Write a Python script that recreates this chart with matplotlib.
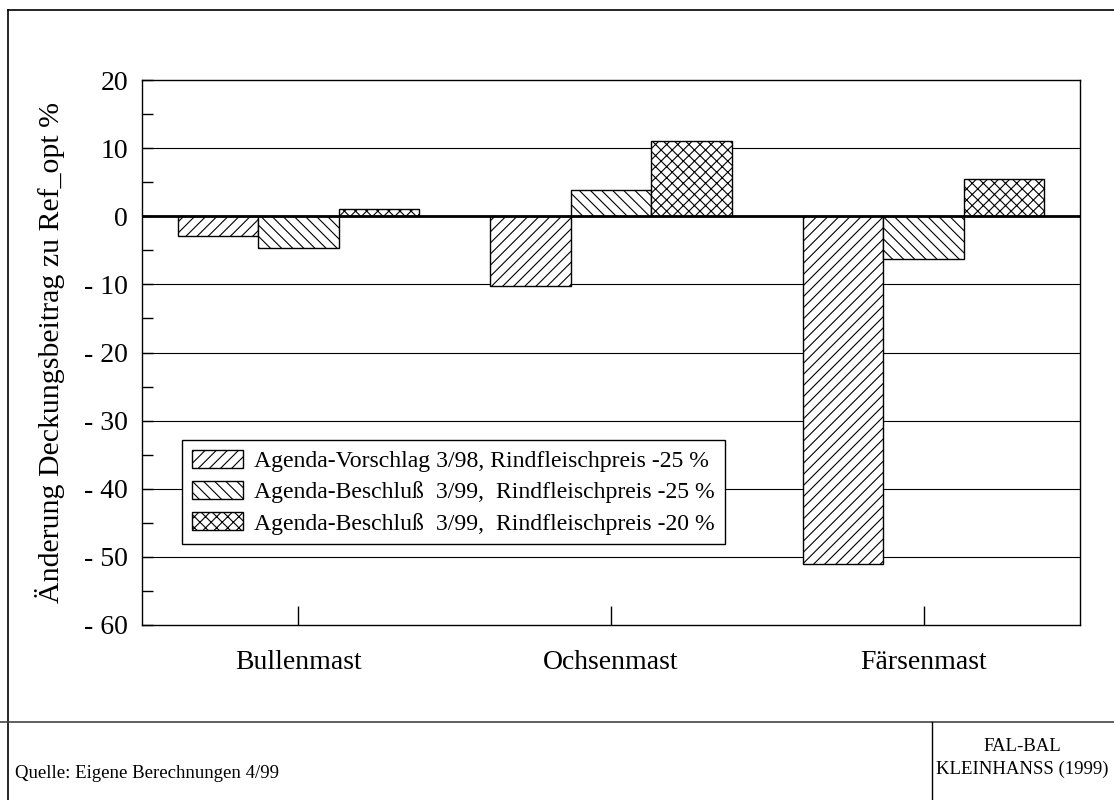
import matplotlib
matplotlib.use('Agg')
import matplotlib.pyplot as plt
from matplotlib.lines import Line2D
from matplotlib.ticker import FixedLocator, FuncFormatter
import numpy as np

plt.rcParams['font.family'] = ['Liberation Serif', 'DejaVu Serif']
plt.rcParams['hatch.linewidth'] = 0.8

categories = ['Bullenmast', 'Ochsenmast', 'Färsenmast']
series_labels = ['Agenda-Vorschlag 3/98, Rindfleischpreis -25 %',
                 'Agenda-Beschluß  3/99,  Rindfleischpreis -25 %',
                 'Agenda-Beschluß  3/99,  Rindfleischpreis -20 %']
vorschlag_98 = [-2.9, -10.3, -51.1]
beschluss_99_25 = [-4.7, 3.8, -6.3]
beschluss_99_20 = [1.0, 11.0, 5.4]
y_ticks = [20, 10, 0, -10, -20, -30, -40, -50, -60]

W, H = 1114, 800
fig = plt.figure(figsize=(W / 100, H / 100), dpi=100)
ax = fig.add_axes([142 / W, 1 - 625 / H, 938 / W, 545 / H])

x = np.arange(len(categories))
width = 0.257
hatches = ['///', '\\\\\\', 'xxx']
all_series = [vorschlag_98, beschluss_99_25, beschluss_99_20]
for i, (vals, lab, h) in enumerate(zip(all_series, series_labels, hatches)):
    ax.bar(x + (i - 1) * width, vals, width, facecolor='white', edgecolor='black',
           linewidth=1, hatch=h, label=lab, zorder=3)

ax.set_xlim(-0.5, 2.5)
ax.set_ylim(-60, 20)
ax.set_xticks(x)
ax.set_xticklabels(categories, fontsize=20)
ax.tick_params(axis='x', direction='in', length=14, width=1, pad=18)

ax.yaxis.set_major_locator(FixedLocator(y_ticks))
ax.yaxis.set_minor_locator(FixedLocator(np.arange(-55, 20, 10)))
ax.yaxis.set_major_formatter(FuncFormatter(lambda v, p: f'- {abs(int(v))}' if v < 0 else f'{int(v)}'))
ax.tick_params(axis='y', which='both', direction='in', length=8, width=1, pad=10, labelsize=20)

for v in y_ticks[1:-1]:
    ax.axhline(v, color='black', linewidth=0.8, zorder=1)
ax.axhline(0, color='black', linewidth=2, zorder=4)

for s in ax.spines.values():
    s.set_linewidth(1)

ax.set_ylabel('Änderung Deckungsbeitrag zu Ref_opt %', fontsize=21.5)
ax.yaxis.set_label_coords(-0.082, 0.5)

leg = ax.legend(loc='upper left', bbox_to_anchor=(182 / W, 1 - 440 / H),
                bbox_transform=fig.transFigure, borderaxespad=0, fontsize=17.1,
                fancybox=False, edgecolor='black', framealpha=1,
                handlelength=2.15, handleheight=0.8, handletextpad=0.5,
                labelspacing=0.38, borderpad=0.4)
leg.get_frame().set_linewidth(1)
leg.set_zorder(5)

# outer frame and footer
fig.add_artist(Line2D([8 / W, 8 / W], [0, 1 - 10 / H], color='black', linewidth=1.2))
fig.add_artist(Line2D([8 / W, 1], [1 - 10 / H, 1 - 10 / H], color='black', linewidth=1.2))
fig.add_artist(Line2D([0, 1], [1 - 722 / H, 1 - 722 / H], color='#444444', linewidth=1.2))
fig.add_artist(Line2D([932 / W, 932 / W], [0, 1 - 722 / H], color='black', linewidth=1))

fig.text(15 / W, 1 - 773 / H, 'Quelle: Eigene Berechnungen 4/99', fontsize=13.5, va='center', ha='left')
fig.text(1022 / W, 1 - 758 / H, 'FAL-BAL\nKLEINHANSS (1999)', fontsize=13.5, va='center', ha='center',
         linespacing=1.4)

fig.savefig('out.png', dpi=100)
